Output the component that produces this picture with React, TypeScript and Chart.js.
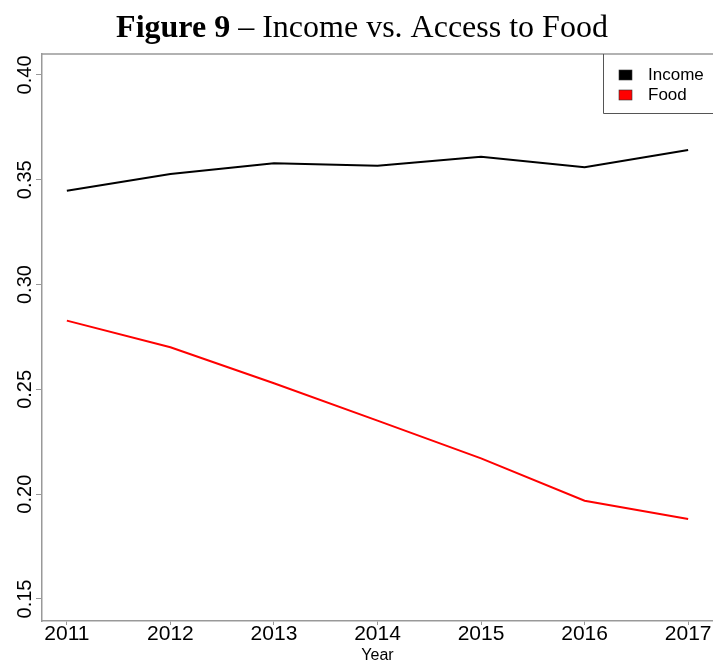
import React, { useEffect, useRef } from "react";
import { Chart, registerables } from "chart.js";

Chart.register(...registerables);

const years = [2011, 2012, 2013, 2014, 2015, 2016, 2017];
const incomeValues = [0.3448, 0.3528, 0.3579, 0.3567, 0.361, 0.356, 0.3642];
const foodValues = [0.2828, 0.2701, 0.2529, 0.2351, 0.2171, 0.1969, 0.1882];
const yTickValues = [0.15, 0.2, 0.25, 0.3, 0.35, 0.4];
const seriesNames = ["Income", "Food"];
const seriesColors = ["#000000", "#ff0000"];
const titleBold = "Figure 9";
const titleRest = " \u2013 Income vs. Access to Food";
const xTitle = "Year";

const SANS = "'Liberation Sans', Arial, sans-serif";
const SERIF = "'Liberation Serif', 'Times New Roman', serif";

export default function App() {
  const ref = useRef<HTMLCanvasElement>(null);

  useEffect(() => {
    document.body.style.margin = "0";
    const canvas = ref.current;
    if (!canvas) return;

    const overlay = {
      id: "overlay",
      afterDraw(chart: any) {
        const ctx = chart.ctx as CanvasRenderingContext2D;
        const area = chart.chartArea;
        const yScale = chart.scales.y;
        ctx.save();

        // top border of plot box
        ctx.strokeStyle = "#999999";
        ctx.lineWidth = 1.5;
        ctx.beginPath();
        ctx.moveTo(area.left, area.top);
        ctx.lineTo(chart.width, area.top);
        ctx.stroke();

        // rotated y tick labels
        ctx.fillStyle = "#000";
        ctx.font = `20px ${SANS}`;
        ctx.textAlign = "center";
        ctx.textBaseline = "middle";
        yScale.ticks.forEach((t: any) => {
          const py = yScale.getPixelForValue(t.value);
          ctx.save();
          ctx.translate(24, py);
          ctx.rotate(-Math.PI / 2);
          ctx.fillText(Number(t.value).toFixed(2), 0, 1);
          ctx.restore();
        });

        // legend box
        const lx = 603;
        const lb = 113;
        ctx.strokeStyle = "#555555";
        ctx.lineWidth = 1;
        ctx.beginPath();
        ctx.moveTo(lx + 0.5, area.top);
        ctx.lineTo(lx + 0.5, lb + 0.5);
        ctx.lineTo(chart.width, lb + 0.5);
        ctx.stroke();
        ctx.font = `17px ${SANS}`;
        ctx.textAlign = "left";
        ctx.textBaseline = "middle";
        chart.data.datasets.forEach((ds: any, i: number) => {
          const cy = 75 + i * 20;
          ctx.fillStyle = ds.borderColor;
          ctx.fillRect(619, cy - 5, 13, 10);
          ctx.strokeStyle = "#333";
          ctx.lineWidth = 0.6;
          ctx.strokeRect(619, cy - 5, 13, 10);
          ctx.fillStyle = "#000";
          ctx.fillText(ds.label, 648, cy);
        });

        // title
        ctx.textBaseline = "alphabetic";
        ctx.textAlign = "left";
        ctx.font = `bold 32px ${SERIF}`;
        const wb = ctx.measureText(titleBold).width;
        ctx.font = `32px ${SERIF}`;
        const wr = ctx.measureText(titleRest).width;
        const startX = 362 - (wb + wr) / 2;
        ctx.font = `bold 32px ${SERIF}`;
        ctx.fillText(titleBold, startX, 37);
        ctx.font = `32px ${SERIF}`;
        ctx.fillText(titleRest, startX + wb, 37);

        ctx.restore();
      },
    };

    const chart = new Chart(canvas, {
      type: "line",
      data: {
        datasets: [
          {
            label: seriesNames[0],
            data: years.map((yr, i) => ({ x: yr, y: incomeValues[i] })),
            borderColor: seriesColors[0],
            backgroundColor: seriesColors[0],
            borderWidth: 2,
            pointRadius: 0,
            tension: 0,
          },
          {
            label: seriesNames[1],
            data: years.map((yr, i) => ({ x: yr, y: foodValues[i] })),
            borderColor: seriesColors[1],
            backgroundColor: seriesColors[1],
            borderWidth: 2,
            pointRadius: 0,
            tension: 0,
          },
        ],
      },
      options: {
        responsive: false,
        animation: false,
        devicePixelRatio: 1,
        layout: { padding: { top: 54, left: 0, right: 0, bottom: 0 } },
        plugins: {
          legend: { display: false },
          title: { display: false },
          tooltip: { enabled: false },
        },
        scales: {
          x: {
            type: "linear",
            position: "bottom",
            min: 2010.76,
            max: 2017.24,
            afterBuildTicks: (s: any) => {
              s.ticks = years.map((v) => ({ value: v }));
            },
            afterFit: (s: any) => {
              s.height = 43;
            },
            ticks: {
              color: "#000",
              font: { family: SANS, size: 21 },
              padding: -3,
              maxRotation: 0,
              autoSkip: false,
              callback: (v: any) => String(v),
            },
            grid: {
              display: true,
              drawOnChartArea: false,
              drawTicks: true,
              tickLength: 4,
              color: "#999999",
            },
            border: { display: true, color: "#999999", width: 1.5 },
            title: {
              display: true,
              text: xTitle,
              color: "#000",
              font: { family: SANS, size: 16 },
              padding: { top: 0, bottom: -1 },
            },
          },
          y: {
            type: "linear",
            min: 0.1395,
            max: 0.41,
            afterBuildTicks: (s: any) => {
              s.ticks = yTickValues.map((v) => ({ value: v }));
            },
            afterFit: (s: any) => {
              s.width = 42;
            },
            ticks: { display: false },
            grid: {
              display: true,
              drawOnChartArea: false,
              drawTicks: true,
              tickLength: 6,
              color: "#999999",
            },
            border: { display: true, color: "#999999", width: 1.5 },
          },
        },
      },
      plugins: [overlay],
    } as any);

    return () => chart.destroy();
  }, []);

  return <canvas ref={ref} width={713} height={664} style={{ display: "block" }} />;
}
